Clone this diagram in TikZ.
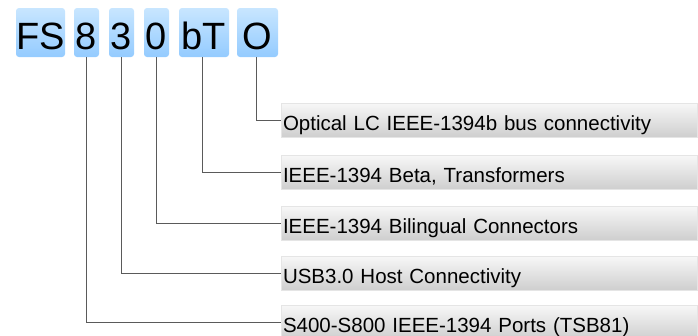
\documentclass[tikz,border=0pt]{standalone}
\usepackage{fontspec}
\setmainfont{Liberation Sans}
\usetikzlibrary{positioning,calc}

\definecolor{codetop}{RGB}{200,230,255}
\definecolor{codebot}{RGB}{148,203,255}
\definecolor{linkgray}{RGB}{90,90,90}

\begin{document}
\begin{tikzpicture}[
    x=1pt, y=-1pt,
    code/.style={rectangle, rounded corners=3pt, top color=codetop, bottom color=codebot, inner sep=0pt, minimum height=49pt, text height=33pt, text depth=0pt, font=\fontsize{38}{38}\selectfont},
    desc/.style={rectangle, draw=gray!20, top color=gray!6, bottom color=gray!38, inner sep=2pt, minimum width=416pt, minimum height=34pt, text width=412pt, align=left, text height=20pt, text depth=0pt, font=\fontsize{20.5}{22}\selectfont},
    link/.style={draw=linkgray, line width=0.9pt}
]
    \useasboundingbox (0,0) rectangle (698,335);

    % ordering code
    \node[code, minimum width=49pt] (fs) at (40.5,32.5) {FS};
    \node[code, minimum width=25pt] (d8) at (86.5,32.5) {8};
    \node[code, minimum width=25pt] (d3) at (121.5,32.5) {3};
    \node[code, minimum width=25pt] (d0) at (156.5,32.5) {0};
    \node[code, minimum width=50pt] (bt) at (204,32.5) {bT};
    \node[code, minimum width=41pt] (o) at (257.5,32.5) {O};

    % meanings
    \node[desc] (optical) at (489,120) {Optical LC IEEE-1394b bus connectivity};
    \node[desc] (beta) at (489,172) {IEEE-1394 Beta, Transformers};
    \node[desc] (bilingual) at (489,223) {IEEE-1394 Bilingual Connectors};
    \node[desc] (usb) at (489,273) {USB3.0 Host Connectivity};
    \node[desc] (ports) at (489,322) {S400-S800 IEEE-1394 Ports (TSB81)};

    \draw[link] ([xshift=-1pt]o.south) |- (optical.west);
    \draw[link] ([xshift=-2pt]bt.south) |- (beta.west);
    \draw[link] (d0.south) |- (bilingual.west);
    \draw[link] (d3.south) |- (usb.west);
    \draw[link] (d8.south) |- (ports.west);
\end{tikzpicture}
\end{document}
